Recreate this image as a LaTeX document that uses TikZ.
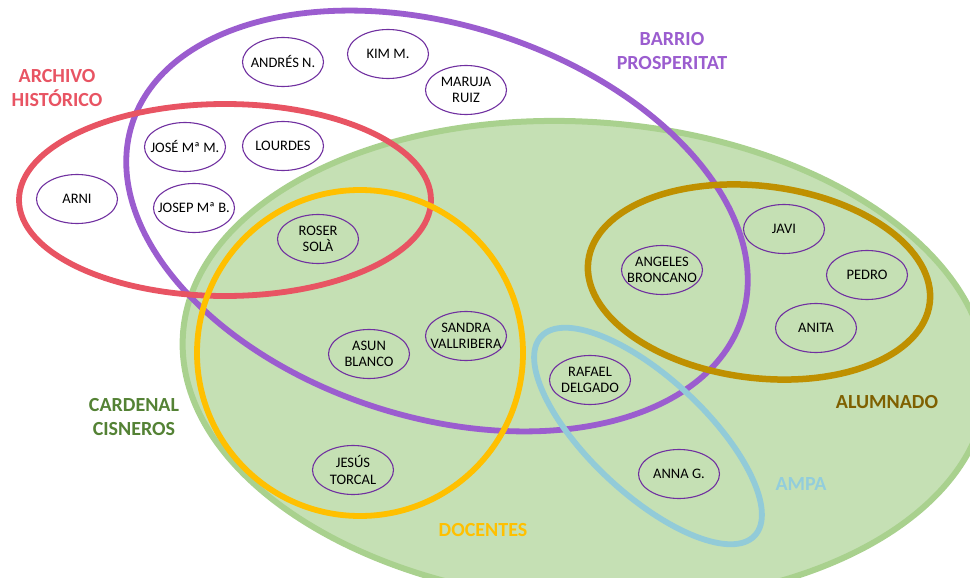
\documentclass[tikz,border=0pt]{standalone}
\usepackage{fontspec}
\setmainfont{Carlito}
\usetikzlibrary{shapes.geometric}
\definecolor{grfill}{HTML}{C5E0B4}
\definecolor{grline}{HTML}{A9D18E}
\definecolor{redc}{HTML}{E85463}
\definecolor{purc}{HTML}{9B5DCF}
\definecolor{yelc}{HTML}{FFC000}
\definecolor{goldc}{HTML}{BF9000}
\definecolor{bluec}{HTML}{92CBD8}
\definecolor{nodec}{HTML}{7030A0}
\definecolor{cardc}{HTML}{548235}
\definecolor{alumc}{HTML}{7F6000}
\definecolor{ampac}{HTML}{92CDDC}
\begin{document}
\begin{tikzpicture}[x=1pt,y=-1pt,
  person/.style={ellipse, draw=nodec, line width=1.1pt, minimum width=81pt, minimum height=49pt, inner xsep=-14pt, inner ysep=0pt, align=center, text=black, font=\fontsize{14.5}{16.5}\selectfont},
  grp/.style={align=center, font=\bfseries\fontsize{20}{24.5}\selectfont},
  ring/.style={line width=5.8pt}]
\useasboundingbox (0,0) rectangle (970,578);
\clip (0,0) rectangle (970,578);
% sets
\draw[fill=grfill, draw=grline, line width=6pt, shift={(585,362)}, rotate=-4] (0,0) ellipse [x radius=403pt, y radius=240pt];
\draw[ring, purc, shift={(437,221)}, rotate=-17.6] (0,0) ellipse [x radius=320pt, y radius=196pt];
\draw[ring, redc] (225,200) ellipse [x radius=206pt, y radius=96pt];
\draw[ring, yelc] (360,353) circle [radius=163pt];
\draw[ring, goldc, line width=6.5pt, shift={(759,282)}, rotate=-7] (0,0) ellipse [x radius=172pt, y radius=96pt];
\draw[ring, bluec, shift={(648,436)}, rotate=-43] (0,0) ellipse [x radius=146pt, y radius=58pt];
% people
\node[person] (andres) at (283,62) {ANDRÉS N.};
\node[person] (kim) at (388,54) {KIM M.};
\node[person] (maruja) at (466,90) {MARUJA\\RUIZ};
\node[person] (jose) at (185,147) {JOSÉ Mª M.};
\node[person] (lourdes) at (283,146) {LOURDES};
\node[person] (arni) at (77,199) {ARNI};
\node[person] (josep) at (194,208) {JOSEP Mª B.};
\node[person] (roser) at (318,239) {ROSER\\SOLÀ};
\node[person] (angeles) at (662,270) {ANGELES\\BRONCANO};
\node[person] (javi) at (784,229) {JAVI};
\node[person] (pedro) at (867,275) {PEDRO};
\node[person] (anita) at (816,328) {ANITA};
\node[person] (rafael) at (590,380) {RAFAEL\\DELGADO};
\node[person] (anna) at (679,474) {ANNA G.};
\node[person] (asun) at (369,354) {ASUN\\BLANCO};
\node[person] (sandra) at (466,336) {SANDRA\\VALLRIBERA};
\node[person] (jesus) at (353,470) {JESÚS\\TORCAL};
% labels
\node[grp, text=redc] (larch) at (57,88) {ARCHIVO\\HISTÓRICO};
\node[grp, text=purc] (lbar) at (672,51) {BARRIO\\PROSPERITAT};
\node[grp, text=cardc] (lcard) at (134,417) {CARDENAL\\CISNEROS};
\node[grp, text=yelc] (ldoc) at (483,530) {DOCENTES};
\node[grp, text=alumc] (lalum) at (887,402) {ALUMNADO};
\node[grp, text=ampac] (lampa) at (801,484) {AMPA};
\end{tikzpicture}
\end{document}
